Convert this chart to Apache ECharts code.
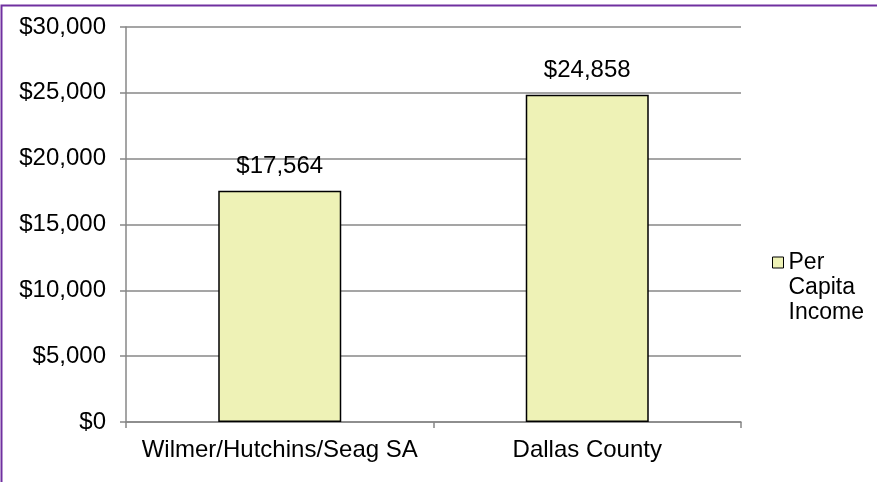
<!DOCTYPE html>
<html>
<head>
<meta charset="utf-8">
<style>
  html, body { margin: 0; padding: 0; background: #fff; }
  #chart { width: 877px; height: 482px; }
</style>
<script src="https://cdn.jsdelivr.net/npm/echarts@6/dist/echarts.min.js"></script>
</head>
<body>
<div id="chart"></div>
<script>
'use strict'

const categories = ['Wilmer/Hutchins/Seag SA', 'Dallas County']
const incomeValues = [17564, 24858]
const seriesName = 'Per Capita Income'
// two blank lines so the icon lines up with the first word
const legendLabel = '\n\nPer\nCapita\nIncome'

const FONT = 'Liberation Sans, Arial, sans-serif'
const BAR_COLOR = '#EEF2B6'
const GRID_COLOR = '#878787'

function money (v) {
  return '$' + Number(v).toLocaleString('en-US')
}

const chart = echarts.init(document.getElementById('chart'))

const option = {
  animation: false,
  textStyle: { fontFamily: FONT },
  grid: { left: 126, right: 136, top: 27, bottom: 60 },
  graphic: [
    {
      type: 'rect',
      shape: { x: 1.5, y: 5.5, width: 900, height: 500 },
      style: { fill: 'none', stroke: '#7030A0', lineWidth: 2 },
      silent: true
    }
  ],
  legend: {
    orient: 'vertical',
    left: 767,
    top: 195,
    itemWidth: 11,
    itemHeight: 11,
    formatter: () => legendLabel,
    textStyle: {
      fontFamily: FONT,
      fontSize: 23,
      color: '#000',
      lineHeight: 25
    },
    data: [{
      name: seriesName,
      icon: 'rect',
      itemStyle: { color: BAR_COLOR, borderColor: '#000', borderWidth: 1 }
    }]
  },
  xAxis: {
    type: 'category',
    data: categories,
    axisLine: { lineStyle: { color: GRID_COLOR, width: 1.5 } },
    axisTick: { show: true, length: 6, alignWithLabel: false, lineStyle: { color: GRID_COLOR, width: 1.5 } },
    axisLabel: { interval: 0, margin: 16, color: '#000', fontSize: 24, fontFamily: FONT }
  },
  yAxis: {
    type: 'value',
    min: 0,
    max: 30000,
    interval: 5000,
    axisLine: { show: true, lineStyle: { color: GRID_COLOR, width: 1.5 } },
    axisTick: { show: true, length: 6, lineStyle: { color: GRID_COLOR, width: 1.5 } },
    splitLine: { lineStyle: { color: GRID_COLOR, width: 1.5 } },
    axisLabel: { margin: 20, color: '#000', fontSize: 24, fontFamily: FONT, formatter: money }
  },
  series: [
    {
      name: seriesName,
      type: 'bar',
      data: incomeValues,
      barWidth: '40%',
      itemStyle: { color: BAR_COLOR, borderColor: '#000', borderWidth: 1.5 },
      label: {
        show: true,
        position: 'top',
        distance: 12,
        color: '#000',
        fontSize: 24,
        fontFamily: FONT,
        formatter: p => money(p.value)
      }
    }
  ]
}

chart.setOption(option)
</script>
</body>
</html>
